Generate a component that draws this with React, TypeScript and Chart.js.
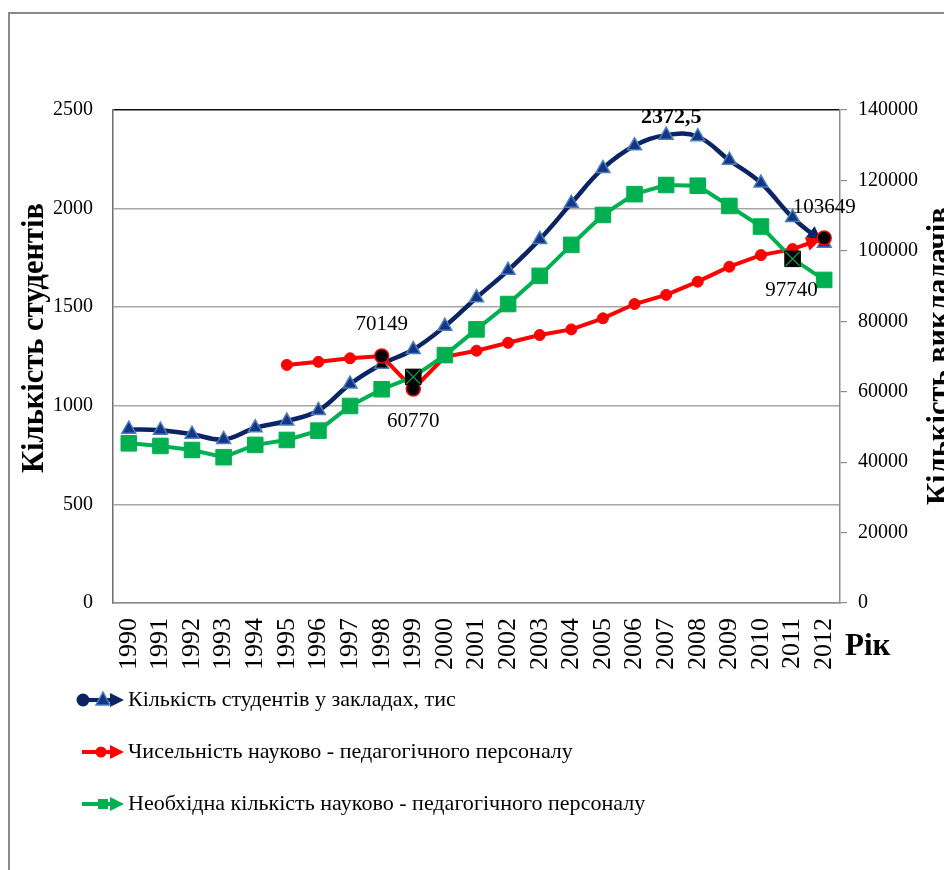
import React, { useEffect, useRef } from "react";
import { Chart, registerables } from "chart.js";

Chart.register(...registerables);

const F = "'Liberation Serif', 'Times New Roman', serif";

const years = [
  "1990", "1991", "1992", "1993", "1994", "1995", "1996", "1997", "1998", "1999", "2000", "2001",
  "2002", "2003", "2004", "2005", "2006", "2007", "2008", "2009", "2010", "2011", "2012",
];

// Кількість студентів у закладах, тис (left axis)
const students = [
  881.3, 876.2, 855.9, 829.2, 888.5, 922.8, 976.1, 1110.0, 1210.3, 1285.4, 1402.9, 1548.0,
  1686.9, 1843.8, 2026.7, 2203.8, 2318.6, 2372.5, 2364.5, 2245.2, 2129.8, 1954.8, 1824.9,
];

// Чисельність науково - педагогічного персоналу (right axis)
const staff = [
  null, null, null, null, null, 67600, 68500, 69500, 70149, 60770, 69900, 71650,
  73900, 76100, 77700, 80850, 84900, 87500, 91250, 95500, 98800, 100500, 103649,
];

// Необхідна кількість науково - педагогічного персоналу (right axis)
const required = [
  45350, 44600, 43450, 41400, 44900, 46300, 48950, 55950, 60700, 64200, 70400, 77700,
  84900, 92900, 101700, 110200, 116100, 118700, 118500, 112750, 106900, 97740, 91750,
];

const leftTicks = [0, 500, 1000, 1500, 2000, 2500];
const rightTicks = [0, 20000, 40000, 60000, 80000, 100000, 120000, 140000];

const legendLabels = [
  "Кількість студентів у закладах, тис",
  "Чисельність науково - педагогічного персоналу",
  "Необхідна кількість науково - педагогічного персоналу",
];

const NAVY = "#0b2465";
const NAVY_FILL = "#143585";
const NAVY_EDGE = "#4a7ebb";
const RED = "#ff0000";
const GREEN = "#00b050";

const redHi = [8, 9, 22];
const greenHi = [9, 21];
const blueHi = [8];

function arrowHead(ctx: CanvasRenderingContext2D, x0: number, y0: number, x1: number, y1: number, color: string, len: number, half: number) {
  const a = Math.atan2(y1 - y0, x1 - x0);
  ctx.save();
  ctx.translate(x1, y1);
  ctx.rotate(a);
  ctx.beginPath();
  ctx.moveTo(0, 0);
  ctx.lineTo(-len, -half);
  ctx.lineTo(-len, half);
  ctx.closePath();
  ctx.fillStyle = color;
  ctx.fill();
  ctx.restore();
}

const decorPlugin = {
  id: "decor",
  beforeDraw(chart: any) {
    const ctx = chart.ctx as CanvasRenderingContext2D;
    ctx.save();
    ctx.fillStyle = "#fff";
    ctx.fillRect(0, 0, chart.width, chart.height);
    ctx.strokeStyle = "#8a8a8a";
    ctx.lineWidth = 2;
    ctx.beginPath();
    ctx.moveTo(9, chart.height);
    ctx.lineTo(9, 13);
    ctx.lineTo(chart.width, 13);
    ctx.stroke();
    ctx.restore();
  },
  beforeDatasetDraw(chart: any, args: any) {
    const ctx = chart.ctx as CanvasRenderingContext2D;
    const pts = args.meta.data;
    const n = pts.length;
    if (args.index === 0 || args.index === 1) {
      const p0 = pts[n - 2];
      const p1 = pts[n - 1];
      const color = args.index === 0 ? NAVY : RED;
      const a = Math.atan2(p1.y - p0.y, p1.x - p0.x);
      const tx = p1.x - Math.cos(a) * 3;
      const ty = p1.y - Math.sin(a) * 3;
      arrowHead(ctx, p0.x, p0.y, tx, ty, color, 15, 7);
    }
  },
  afterDatasetsDraw(chart: any) {
    const ctx = chart.ctx as CanvasRenderingContext2D;
    const blue = chart.getDatasetMeta(0).data;
    const red = chart.getDatasetMeta(1).data;
    const green = chart.getDatasetMeta(2).data;
    ctx.save();
    ctx.strokeStyle = GREEN;
    ctx.lineWidth = 1.2;
    greenHi.forEach((i) => {
      const p = green[i];
      const s = 7;
      ctx.beginPath();
      ctx.moveTo(p.x - s, p.y - s);
      ctx.lineTo(p.x + s, p.y + s);
      ctx.moveTo(p.x + s, p.y - s);
      ctx.lineTo(p.x - s, p.y + s);
      ctx.stroke();
    });
    ctx.fillStyle = "#000";
    ctx.textAlign = "center";
    ctx.textBaseline = "middle";
    ctx.font = `21px ${F}`;
    ctx.fillText(String(staff[8]), red[8].x, red[8].y - 31);
    ctx.fillText(String(staff[9]), red[9].x, red[9].y + 32);
    ctx.fillText(String(staff[22]), red[22].x, red[22].y - 31);
    ctx.fillText(String(required[21]), green[21].x - 1, green[21].y + 32);
    ctx.font = `bold 22px ${F}`;
    ctx.fillText(String(students[17]).replace(".", ","), blue[17].x + 5, blue[17].y - 18);
    ctx.restore();
  },
  afterDraw(chart: any) {
    const ctx = chart.ctx as CanvasRenderingContext2D;
    ctx.save();
    ctx.fillStyle = "#000";
    ctx.font = `bold 30.5px ${F}`;
    ctx.textBaseline = "alphabetic";
    ctx.save();
    ctx.translate(43, 338);
    ctx.rotate(-Math.PI / 2);
    ctx.textAlign = "center";
    ctx.fillText("Кількість студентів", 0, 0);
    ctx.restore();
    ctx.save();
    ctx.translate(948, 505);
    ctx.rotate(-Math.PI / 2);
    ctx.textAlign = "left";
    ctx.fillText("Кількість викладачів", 0, 0);
    ctx.restore();
    ctx.font = `bold 31px ${F}`;
    ctx.textAlign = "left";
    ctx.fillText("Рік", 845, 655);

    const rows = [700, 752, 804];
    const colors = [NAVY, RED, GREEN];
    rows.forEach((y, k) => {
      ctx.strokeStyle = colors[k];
      ctx.lineWidth = 4;
      ctx.beginPath();
      ctx.moveTo(82, y);
      ctx.lineTo(112, y);
      ctx.stroke();
      arrowHead(ctx, 82, y, 124, y, colors[k], 14, 7);
      if (k === 0) {
        ctx.fillStyle = NAVY;
        ctx.beginPath();
        ctx.arc(83, y, 6.5, 0, Math.PI * 2);
        ctx.fill();
        ctx.beginPath();
        ctx.moveTo(103, y - 8);
        ctx.lineTo(110, y + 5);
        ctx.lineTo(96, y + 5);
        ctx.closePath();
        ctx.fillStyle = NAVY_FILL;
        ctx.fill();
        ctx.strokeStyle = NAVY_EDGE;
        ctx.lineWidth = 1.5;
        ctx.stroke();
      } else if (k === 1) {
        ctx.fillStyle = RED;
        ctx.beginPath();
        ctx.arc(101, y, 5.5, 0, Math.PI * 2);
        ctx.fill();
      } else {
        ctx.fillStyle = GREEN;
        ctx.fillRect(98, y - 5, 10, 10);
      }
      ctx.fillStyle = "#000";
      ctx.font = `21px ${F}`;
      ctx.textAlign = "left";
      ctx.textBaseline = "middle";
      ctx.save();
      ctx.translate(128, y);
      ctx.scale(1.05, 1);
      ctx.fillText(legendLabels[k], 0, 0);
      ctx.restore();
    });
    ctx.restore();
  },
};

export default function App() {
  const ref = useRef<HTMLCanvasElement>(null);

  useEffect(() => {
    if (!ref.current) return;
    const chart = new Chart(ref.current, {
      type: "line",
      data: {
        labels: years,
        datasets: [
          {
            label: legendLabels[0],
            data: students,
            yAxisID: "y",
            borderColor: NAVY,
            borderWidth: 4.5,
            tension: 0.4,
            pointStyle: "triangle",
            pointRadius: 8,
            pointBorderWidth: 1.5,
            pointBackgroundColor: students.map((_, i) => (blueHi.includes(i) ? "#000" : NAVY_FILL)),
            pointBorderColor: NAVY_EDGE,
            order: 3,
          },
          {
            label: legendLabels[1],
            data: staff,
            yAxisID: "y1",
            borderColor: RED,
            borderWidth: 4,
            tension: 0,
            pointStyle: "circle",
            pointRadius: staff.map((_, i) => (redHi.includes(i) ? 7 : 5.5)),
            pointBorderWidth: staff.map((_, i) => (redHi.includes(i) ? 1.5 : 1)),
            pointBackgroundColor: staff.map((_, i) => (redHi.includes(i) ? "#000" : RED)),
            pointBorderColor: RED,
            order: 2,
          },
          {
            label: legendLabels[2],
            data: required,
            yAxisID: "y1",
            borderColor: GREEN,
            borderWidth: 4,
            tension: 0,
            pointStyle: "rect",
            pointRadius: 11,
            pointBorderWidth: 1,
            pointBackgroundColor: required.map((_, i) => (greenHi.includes(i) ? "#000" : GREEN)),
            pointBorderColor: required.map((_, i) => (greenHi.includes(i) ? "#000" : GREEN)),
            order: 1,
          },
        ],
      },
      options: {
        responsive: false,
        animation: false,
        layout: { padding: { top: 110, left: 0, right: 0, bottom: 0 } },
        plugins: {
          legend: { display: false },
          tooltip: { enabled: false },
          title: { display: false },
        },
        scales: {
          x: {
            type: "category",
            offset: true,
            grid: { display: false, drawTicks: false },
            border: { display: true, color: "#8c8c8c", width: 1.5 },
            ticks: {
              autoSkip: false,
              maxRotation: 90,
              minRotation: 90,
              padding: 15,
              color: "#000",
              font: { family: F, size: 26 },
            },
            afterFit: (s: any) => {
              s.height = 267;
            },
          },
          y: {
            position: "left",
            min: 0,
            max: 2500,
            afterBuildTicks: (s: any) => {
              s.ticks = leftTicks.map((v) => ({ value: v }));
            },
            grid: {
              color: (c: any) => (c.tick && c.tick.value === 2500 ? "#111" : "#a6a6a6"),
              lineWidth: 1.5,
              drawTicks: false,
            },
            border: { display: true, color: "#6e6e6e", width: 1.5 },
            ticks: {
              padding: 20,
              color: "#000",
              font: { family: F, size: 20 },
              callback: (v: any) => String(v),
            },
            afterFit: (s: any) => {
              s.width = 113;
            },
          },
          y1: {
            position: "right",
            min: 0,
            max: 140000,
            afterBuildTicks: (s: any) => {
              s.ticks = rightTicks.map((v) => ({ value: v }));
            },
            grid: { drawOnChartArea: false, drawTicks: true, tickLength: 7, color: "#8c8c8c", lineWidth: 1.2 },
            border: { display: true, color: "#8c8c8c", width: 1.5 },
            ticks: {
              padding: 11,
              color: "#000",
              font: { family: F, size: 20 },
              callback: (v: any) => String(v),
            },
            afterFit: (s: any) => {
              s.width = 104;
            },
          },
        },
      },
      plugins: [decorPlugin],
    });
    return () => chart.destroy();
  }, []);

  return (
    <div style={{ position: "fixed", left: 0, top: 0, width: 944, height: 870, background: "#fff" }}>
      <canvas ref={ref} width={944} height={870} style={{ display: "block", width: 944, height: 870 }} />
    </div>
  );
}
